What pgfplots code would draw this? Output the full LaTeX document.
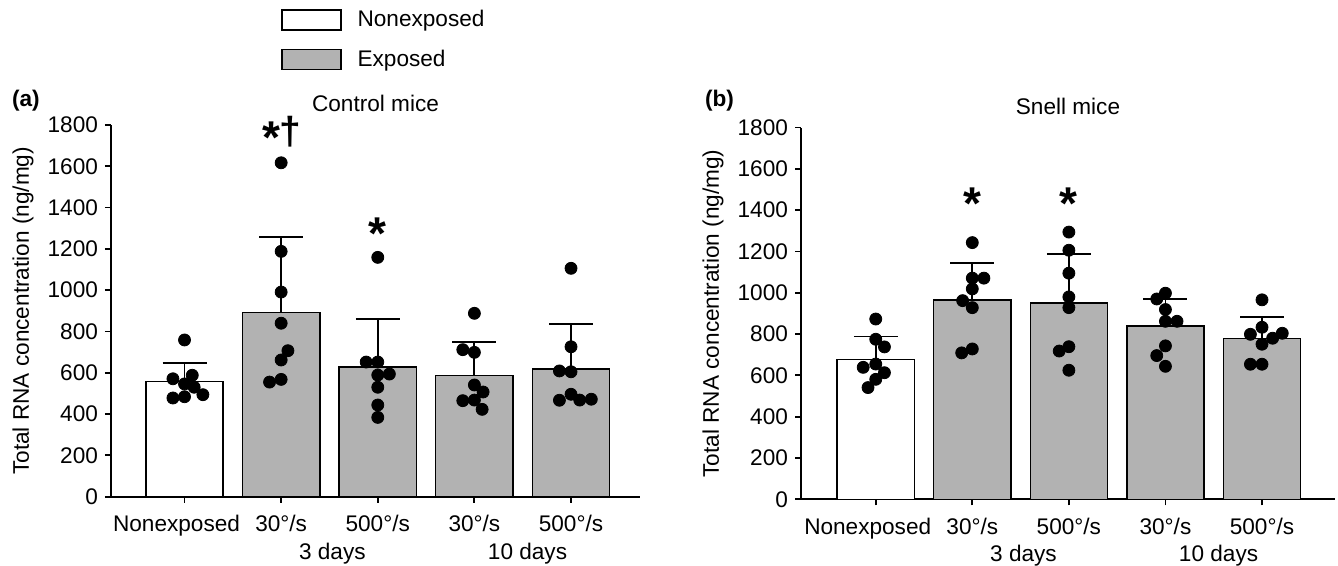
\documentclass[border=0pt]{standalone}
\usepackage{pgfplots}
\pgfplotsset{compat=1.18}
\usepackage{fontspec}
\setmainfont{Liberation Sans}
\definecolor{barGray}{RGB}{178,178,178}

\pgfplotsset{
  rnapanel/.style={
    scale only axis,
    height=185.85pt,
    ymin=0, ymax=1800,
    ytick={0,200,...,1800},
    xtick={0,1,2,3,4},
    xticklabels={Nonexposed\hspace*{8pt},30°/s,500°/s,30°/s,500°/s},
    axis x line=bottom, axis y line=left,
    axis line style={-, line width=0.9pt},
    tick align=outside, major tick length=3pt,
    tick style={black, line width=0.9pt},
    clip=false,
    /pgf/number format/assume math mode=true,
    /pgf/number format/1000 sep={},
    xticklabel style={anchor=base, yshift=-14.5pt},
    every axis title shift=0pt,
    title style={anchor=base, yshift=6.5pt},
    ylabel={Total RNA concentration (ng/mg)},
  },
  meanbar/.style={ybar, bar width=0.8, bar shift=0pt, draw=black, line width=0.75pt,
    legend image code/.code={\draw[##1, line width=0.75pt] (0pt,-5pt) rectangle (29.5pt,5pt);},
    error bars/y dir=plus, error bars/y explicit,
    error bars/error bar style={black, line width=0.9pt},
    error bars/error mark options={rotate=90, mark size=11pt, line width=0.9pt, black}},
  dots/.style={only marks, mark=*, mark size=3pt, black, forget plot},
}
\tikzset{sigstar/.style={anchor=base, font=\fontsize{23}{23}\selectfont\bfseries}}

\begin{document}
\begin{tikzpicture}[font=\fontsize{11.3}{13.5}\selectfont]
\path[use as bounding box] (0,0) rectangle (669pt,283pt);

% (a) control mice
\begin{axis}[rnapanel,
  at={(55.5pt,34.65pt)}, anchor=south west,
  width=264.5pt, xmin=-0.761, xmax=4.714,
  title={Control mice},
  ylabel style={at={(axis description cs:-0.1664,0.5)}, anchor=center},
  legend style={at={(axis description cs:0,1)}, anchor=north west,
    xshift=84.85pt, yshift=58pt, draw=none, fill=none,
    row sep=9pt, column sep=8pt, inner sep=0pt, nodes={inner sep=0pt}},
  legend cell align=left,
]
\addplot[meanbar, fill=white] coordinates {(0,557) +- (0,92)};
\addlegendentry{Nonexposed}
\addplot[meanbar, fill=barGray] coordinates {
  (1,891) +- (0,365)
  (2,627) +- (0,235)
  (3,588) +- (0,160)
  (4,618) +- (0,218)
};
\addlegendentry{Exposed}
\addplot[dots] coordinates {
  (0,759) (-0.12,571) (0.08,588) (0,546) (0.10,530) (-0.12,478) (0,484) (0.19,494)
  (1,1617) (1,1188) (1,991) (1,840) (1.07,707) (1,662) (0.88,555) (1,568)
  (2,1159) (1.88,652) (2,652) (2.12,594) (2,589) (2,530) (2,444) (2,384)
  (3,888) (2.88,712) (3,699) (3,541) (3.09,507) (2.88,465) (3,468) (3.08,423)
  (4,1106) (4,726) (3.88,609) (4,605) (4,496) (3.88,467) (4.09,468) (4.21,472)
};
\node[sigstar] at (axis cs:0.90,1660) {*};
\node[anchor=center, inner sep=0pt, font=\fontsize{19.5}{19.5}\selectfont\bfseries] at (axis cs:1.10,1768) {†};
\node[sigstar] at (axis cs:2,1195) {*};
\node[anchor=base, yshift=-31.3pt] at (axis cs:1.53,0) {3 days};
\node[anchor=base, yshift=-31.3pt] at (axis cs:3.55,0) {10 days};
\end{axis}

% (b) Snell mice
\begin{axis}[rnapanel,
  at={(400.5pt,33.35pt)}, anchor=south west,
  width=267pt, xmin=-0.774, xmax=4.756,
  title={Snell mice},
  ylabel style={at={(axis description cs:-0.1648,0.5)}, anchor=center},
]
\addplot[meanbar, fill=white] coordinates {(0,678) +- (0,110)};
\addplot[meanbar, fill=barGray] coordinates {
  (1,966) +- (0,179)
  (2,950) +- (0,238)
  (3,838) +- (0,131)
  (4,778) +- (0,104)
};
\addplot[dots] coordinates {
  (0,873) (0,775) (0.09,738) (-0.13,639) (0,655) (0.09,613) (0,581) (-0.08,541)
  (1,1243) (1,1071) (1.12,1071) (1,1019) (0.9,962) (1,928) (1,728) (0.89,709)
  (2,1294) (2,1206) (2,1095) (2,980) (2,928) (2,739) (1.9,718) (2,625)
  (3,998) (2.91,970) (3,919) (3,862) (3.12,862) (3,743) (2.91,696) (3,644)
  (4,966) (4,833) (3.88,799) (4.21,804) (4.11,780) (4,751) (3.88,654) (4,654)
};
\node[sigstar] at (axis cs:1,1355) {*};
\node[sigstar] at (axis cs:2,1355) {*};
\node[anchor=base, yshift=-31.3pt] at (axis cs:1.53,0) {3 days};
\node[anchor=base, yshift=-31.3pt] at (axis cs:3.55,0) {10 days};
\end{axis}

\node[anchor=base west, font=\fontsize{11.3}{13.5}\selectfont\bfseries] at (2.5pt,229.5pt) {(a)};
\node[anchor=base west, font=\fontsize{11.3}{13.5}\selectfont\bfseries] at (349pt,229.5pt) {(b)};
\end{tikzpicture}
\end{document}
